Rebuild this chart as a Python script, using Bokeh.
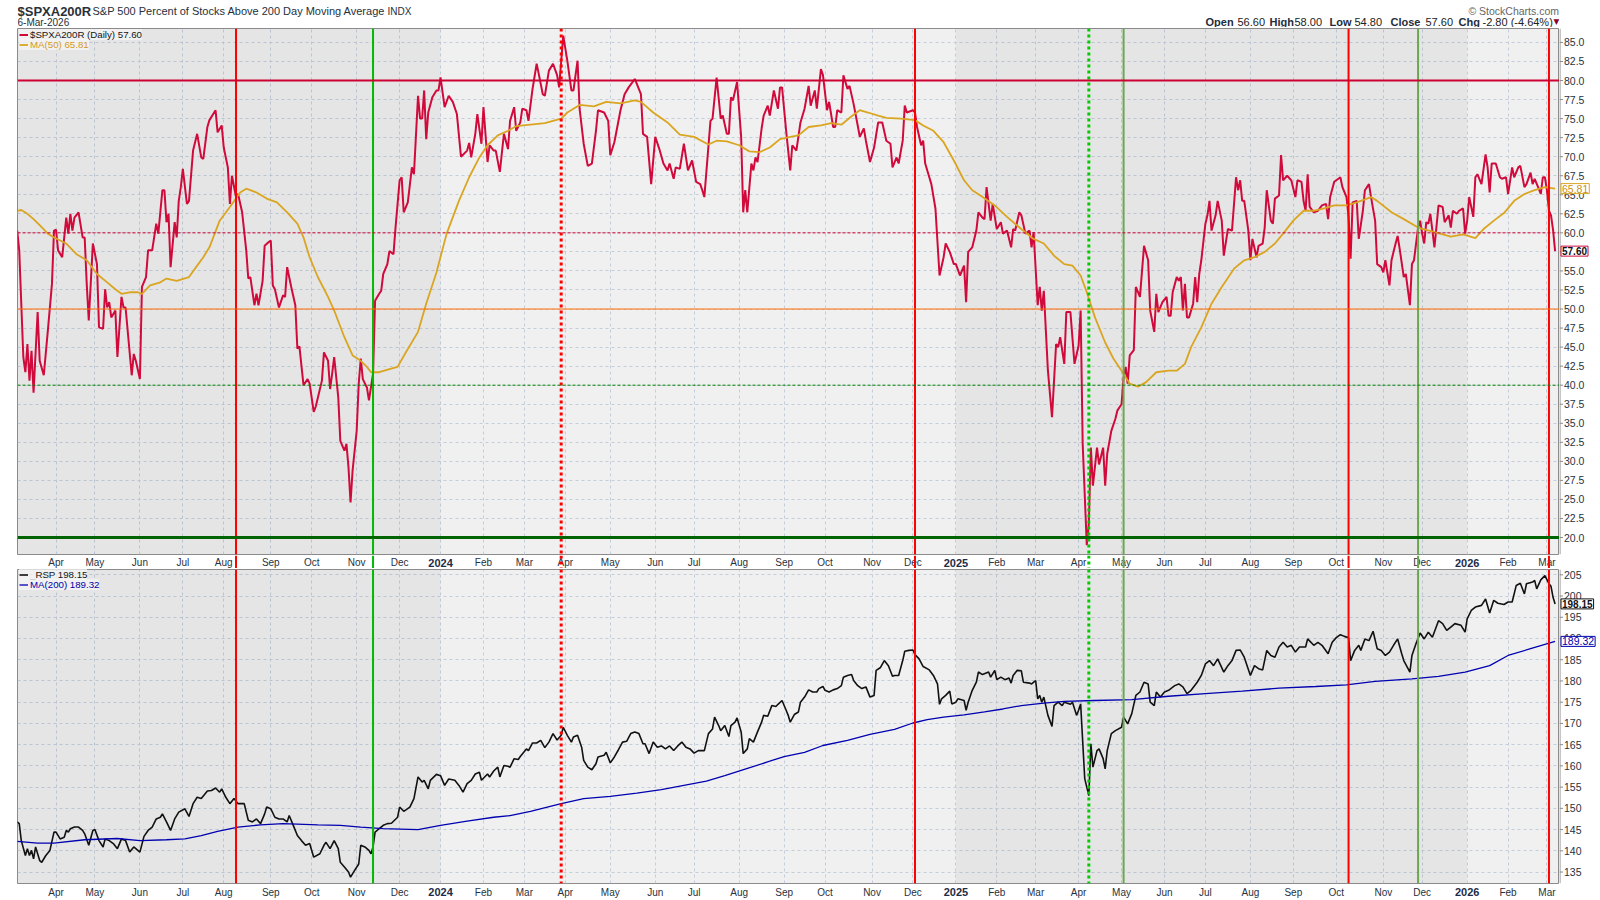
import numpy as np
from bokeh.plotting import figure
from bokeh.models import (Range1d, FixedTicker, Span, BoxAnnotation, Label, Legend,
                          LegendItem, Grid)
from bokeh.core.properties import value
from bokeh.layouts import column, row
from bokeh.embed import file_html
from bokeh.resources import INLINE

# ---------------- calendar ----------------
FIRST_SESSION = "2023-03-07"
NYSE_HOLIDAYS = ["2023-04-07", "2023-05-29", "2023-06-19", "2023-07-04", "2023-09-04",
                 "2023-11-23", "2023-12-25", "2024-01-01", "2024-01-15", "2024-02-19",
                 "2024-03-29", "2024-05-27", "2024-06-19", "2024-07-04", "2024-09-02",
                 "2024-11-28", "2024-12-25", "2025-01-01", "2025-01-09", "2025-01-20",
                 "2025-02-17", "2025-04-18", "2025-05-26", "2025-06-19", "2025-07-04",
                 "2025-09-01", "2025-11-27", "2025-12-25", "2026-01-01", "2026-01-19",
                 "2026-02-16"]
MONTH_STARTS = ["2023-04-01", "2023-05-01", "2023-06-01", "2023-07-01", "2023-08-01",
                "2023-09-01", "2023-10-01", "2023-11-01", "2023-12-01",
                "2024-01-01", "2024-02-01", "2024-03-01", "2024-04-01", "2024-05-01",
                "2024-06-01", "2024-07-01", "2024-08-01", "2024-09-01", "2024-10-01",
                "2024-11-01", "2024-12-01",
                "2025-01-01", "2025-02-01", "2025-03-01", "2025-04-01", "2025-05-01",
                "2025-06-01", "2025-07-01", "2025-08-01", "2025-09-01", "2025-10-01",
                "2025-11-01", "2025-12-01",
                "2026-01-01", "2026-02-01", "2026-03-01"]
MONTH_LABELS = ["Apr", "May", "Jun", "Jul", "Aug", "Sep", "Oct", "Nov", "Dec",
                "2024", "Feb", "Mar", "Apr", "May", "Jun", "Jul", "Aug", "Sep", "Oct", "Nov", "Dec",
                "2025", "Feb", "Mar", "Apr", "May", "Jun", "Jul", "Aug", "Sep", "Oct", "Nov", "Dec",
                "2026", "Feb", "Mar"]
YEAR_STARTS = ["2024-01-01", "2025-01-01", "2026-01-01"]

# ---------------- $SPXA200R (session index, value) ----------------
spx_sess = [
    0, 1, 3, 4, 5, 6, 7, 8, 10, 11,
    13, 15, 17, 18, 19, 20, 22, 24, 25, 26,
    27, 28, 30, 32, 33, 34, 35, 37, 39, 40,
    42, 43, 44, 45, 46, 48, 49, 51, 52, 53,
    56, 57, 58, 60, 61, 63, 64, 66, 68, 69,
    71, 72, 73, 74, 75, 77, 78, 79, 80, 81,
    83, 84, 86, 88, 90, 91, 93, 94, 97, 98,
    100, 101, 103, 104, 105, 107, 108, 110, 112, 113,
    114, 116, 117, 118, 120, 121, 123, 124, 125, 126,
    128, 130, 131, 132, 134, 136, 137, 138, 140, 142,
    143, 145, 146, 149, 150, 152, 153, 154, 155, 157,
    158, 160, 161, 162, 163, 164, 166, 167, 168, 169,
    171, 172, 174, 175, 177, 178, 179, 181,
    182, 184, 185, 187, 188, 189, 191, 193, 194, 196,
    197, 198, 199, 200, 201, 203, 205, 206, 207, 209,
    211, 213, 215, 217, 220, 221, 222, 224, 225, 227,
    228, 230, 231, 233, 234, 236, 238, 240, 241, 243,
    244, 246, 247, 249, 250, 252, 254, 255, 257, 258,
    260, 262, 264, 265, 267, 269, 271, 272, 274, 275,
    277, 279, 281, 283, 284, 287, 289, 290, 292, 295,
    297, 299, 302, 305, 306, 308, 310, 312, 314, 316,
    318, 319, 321, 322, 324, 326, 328, 330, 332, 334,
    335, 336, 339, 340, 342, 344, 345, 347, 348, 349,
    350, 352, 354, 355, 356, 357, 359, 360, 361, 362,
    364, 365, 367, 368, 370, 372,
    373, 374, 376, 378, 379, 381, 383, 385, 387, 388,
    390, 391, 393, 394, 396, 397, 399, 400, 401, 403,
    404, 406, 407, 409, 411, 412, 414, 415, 417, 419,
    421, 423, 425, 427, 428, 430, 431, 433, 434, 435,
    438, 439, 440, 442, 443, 444, 446, 447, 449, 451,
    453, 454, 456, 458, 459, 461, 463, 464, 465, 467,
    469, 470, 472, 473, 474, 476, 477, 479, 481, 482,
    484, 486, 487, 488, 490, 491, 493, 495, 496, 497,
    499, 500, 501, 502, 504, 506, 508, 509, 510, 512,
    513, 515, 517, 519, 520, 521, 523, 524, 525, 526,
    528, 529, 531, 532, 533, 535, 537, 538, 540, 541,
    542, 543, 544, 546, 547, 549, 551, 553, 554, 556,
    557, 558, 560, 562, 563,
    564, 565, 567, 568, 569, 570, 571, 572, 573, 575,
    576, 577, 578, 579, 581, 582, 583, 584, 586, 587,
    589, 590, 592, 594, 596, 597, 598, 599, 600, 602,
    603, 604, 606, 607, 609, 610, 611, 613, 614, 615,
    617, 618, 619, 621, 623, 625, 626, 628, 629, 630,
    631, 632, 634, 636, 638, 640, 641, 642, 644, 645,
    647, 648, 650, 651, 652, 653, 655, 656, 658, 659,
    661, 662, 664, 665, 667, 668, 669, 671, 672, 674,
    675, 676, 678, 679, 681, 682, 683, 685, 686, 687,
    688, 689, 690, 691, 693, 695, 697, 698, 700, 701,
    702, 704, 705, 707, 708, 709, 710, 712, 713, 714,
    716, 718, 719, 720, 721, 723, 725, 726, 728, 729,
    731, 732, 734, 735, 737, 738, 740, 741, 742, 744,
    745, 746, 747, 748, 749, 750, 751, 752]
spx_vals = [
    60.3, 57.7, 43.7, 41.7, 45.4, 40.6, 44.5, 39.0, 49.6, 43.2,
    41.3, 47.2, 53.3, 60.3, 60.4, 57.7, 56.8, 62.0, 59.9, 62.5,
    60.3, 62.0, 62.7, 59.4, 59.4, 53.3, 48.5, 58.6, 55.9, 47.6,
    47.4, 52.6, 50.2, 50.9, 48.9, 49.8, 43.7, 51.6, 50.2, 50.2,
    41.3, 44.1, 43.2, 40.8, 52.9, 54.2, 57.7, 57.7, 61.2, 59.9,
    65.6, 65.6, 61.4, 62.5, 55.5, 61.4, 59.4, 64.2, 66.0, 68.4,
    63.8, 64.2, 70.8, 73.0, 69.9, 69.7, 73.9, 74.8, 76.1, 73.2,
    74.1, 71.2, 68.6, 63.8, 67.5, 64.7, 65.1, 62.7, 57.7, 54.0,
    54.2, 50.5, 52.0, 50.5, 53.7, 58.3, 58.8, 59.0, 53.1, 52.6,
    50.2, 51.8, 51.6, 55.5, 52.9, 50.5, 44.8, 45.1, 40.0, 40.8,
    40.2, 36.5, 37.2, 40.6, 44.3, 43.2, 39.5, 41.5, 43.7, 38.4,
    32.7, 31.4, 32.3, 29.2, 24.6, 28.8, 34.0, 40.2, 43.5, 40.8,
    39.7, 38.0, 41.5, 51.1, 52.0, 52.4, 54.6, 55.9,
    57.6, 57.2, 60.7, 66.9, 67.3, 62.7, 64.0, 68.6, 67.7, 78.0,
    75.0, 75.0, 78.7, 72.3, 75.8, 77.8, 78.7, 78.7, 80.4, 76.5,
    78.0, 77.2, 75.6, 70.0, 70.8, 71.8, 69.9, 73.0, 75.6, 71.7,
    76.5, 69.3, 71.5, 70.8, 70.8, 68.0, 73.0, 71.0, 74.7, 76.5,
    73.4, 74.5, 76.3, 76.1, 74.7, 78.9, 82.2, 80.9, 78.2, 78.0,
    81.3, 82.2, 80.7, 79.1, 85.9, 82.6, 78.7, 78.7, 82.6, 76.3,
    71.7, 68.8, 69.1, 73.4, 76.1, 75.8, 74.7, 70.2, 71.9, 76.1,
    78.2, 79.1, 80.2, 78.2, 73.0, 72.6, 66.4, 72.6, 71.0, 69.1,
    68.2, 69.1, 67.1, 68.6, 68.4, 71.7, 68.2, 69.5, 66.7, 66.4,
    65.6, 64.7, 74.7, 75.0, 80.4, 75.0, 75.4, 73.0, 73.0, 77.8,
    77.4, 79.8, 72.6, 62.7, 65.6, 62.7, 69.1, 68.2, 69.9, 69.3,
    73.7, 75.4, 76.7, 75.4, 78.7, 76.3,
    79.1, 79.1, 73.4, 68.2, 71.5, 70.8, 74.5, 76.3, 79.3, 76.7,
    78.7, 76.3, 81.5, 80.7, 76.1, 77.2, 73.9, 73.9, 76.1, 75.8,
    80.7, 78.9, 79.3, 76.9, 74.1, 72.6, 73.7, 72.1, 69.3, 71.2,
    74.5, 74.5, 72.1, 71.7, 68.6, 69.9, 69.1, 72.1, 76.7, 75.8,
    76.1, 75.8, 73.9, 71.5, 72.1, 69.1, 67.3, 66.4, 63.2, 54.4,
    56.8, 58.6, 57.5, 55.9, 55.9, 54.4, 55.7, 50.9, 57.5, 58.1,
    60.3, 62.7, 62.0, 61.8, 66.0, 61.6, 63.8, 60.5, 61.4, 59.9,
    60.3, 58.1, 60.5, 60.3, 62.7, 62.3, 59.9, 60.3, 58.1, 60.1,
    50.5, 52.9, 49.8, 52.4, 41.9, 35.8, 45.4, 45.0, 46.3, 42.8,
    49.6, 49.6, 42.8, 45.2, 49.8, 32.3, 19.0, 21.8, 31.8, 26.8,
    31.8, 29.6, 31.8, 26.8, 31.0, 34.0, 35.6, 36.7, 37.5, 41.0,
    42.4, 40.2, 43.9, 44.6, 52.9, 51.6, 58.3, 56.4, 49.8, 47.0,
    52.0, 49.6, 50.9, 51.6, 49.1,
    49.1, 52.2, 54.2, 53.7, 54.2, 49.8, 53.3, 48.9, 48.9, 50.7,
    54.2, 50.9, 54.6, 56.4, 61.2, 62.3, 64.2, 60.3, 62.3, 64.2,
    61.6, 57.0, 60.5, 60.3, 67.3, 65.6, 66.9, 64.2, 64.2, 60.3,
    56.4, 59.2, 56.8, 58.3, 58.6, 60.7, 65.6, 61.6, 61.2, 64.5,
    64.9, 70.2, 66.9, 67.5, 66.9, 64.7, 66.9, 66.7, 64.2, 62.9,
    67.7, 63.4, 62.7, 62.9, 63.6, 63.8, 61.8, 64.7, 66.7, 66.9,
    67.3, 66.0, 64.7, 62.1, 56.6, 64.0, 64.2, 59.2, 62.9, 65.6,
    66.4, 64.7, 61.6, 55.9, 55.5, 54.8, 56.4, 53.1, 56.4, 58.6,
    59.6, 57.9, 54.2, 54.6, 50.5, 55.9, 56.4, 60.7, 61.6, 59.9,
    58.6, 61.4, 61.2, 62.5, 58.1, 63.6, 63.4, 61.4, 62.3, 60.7,
    62.9, 62.5, 62.9, 63.2, 59.9, 61.6, 64.7, 62.1, 67.3, 67.7,
    66.4, 70.3, 68.6, 65.3, 69.1, 69.1, 67.3, 67.1, 67.3, 65.1,
    68.6, 67.3, 68.6, 68.8, 66.0, 66.4, 67.9, 66.4, 67.1, 65.8,
    65.1, 67.3, 67.3, 65.6, 62.9, 62.3, 60.4, 57.6]

# ---------------- MA(50) of $SPXA200R ----------------
ma50_sess = [0, 2, 5, 8, 11, 15, 18, 21, 24, 29,
             34, 39, 44, 48, 51, 55, 59, 61, 65, 70,
             73, 78, 84, 88, 91, 94, 99, 104, 109, 112,
             117, 122, 127, 132, 137, 140, 143, 147, 152, 155,
             160, 164, 168, 171, 173, 177, 182, 186, 190, 196,
             200, 205, 210, 216, 221, 226, 230, 235, 240, 244,
             251, 258, 262, 266, 269, 275, 282, 288, 295, 302,
             305, 311, 318, 324, 331, 338, 342, 347, 353, 358,
             363, 368, 373, 378, 382, 387, 393, 398, 403, 408,
             412, 416, 421, 425, 432, 439, 443, 448, 453, 458,
             463, 467, 471, 478, 484, 491, 497, 502, 507, 512,
             516, 520, 523, 527, 532, 536, 541, 544, 548, 552,
             557, 563, 567, 571, 574, 579, 584, 589, 595, 600,
             605, 610, 615, 619, 624, 629, 634, 639, 644, 650,
             655, 662, 665, 672, 678, 685, 693, 701, 707, 713,
             717, 723, 727, 732, 737, 742, 747, 752]
ma50_vals = [62.9, 63.0, 62.5, 61.8, 61.0, 59.9, 59.4, 59.0, 58.6, 57.2,
             56.4, 54.6, 53.5, 52.6, 52.0, 52.2, 52.2, 52.0, 53.1, 53.5,
             54.0, 53.7, 54.2, 55.7, 56.8, 58.1, 61.6, 63.4, 65.3, 65.8,
             65.3, 64.5, 64.0, 62.7, 61.2, 59.4, 56.8, 54.2, 51.6, 49.8,
             46.3, 43.9, 43.2, 42.4, 41.7, 41.7, 42.1, 42.4, 44.3, 47.0,
             50.7, 54.8, 59.9, 64.2, 67.3, 69.9, 71.5, 72.8, 73.4, 74.0,
             74.2, 74.4, 74.7, 75.0, 75.8, 76.8, 76.6, 77.2, 77.0, 77.4,
             77.2, 75.8, 74.5, 72.9, 72.6, 71.6, 72.1, 72.0, 71.5, 70.7,
             70.6, 71.2, 72.3, 72.6, 72.8, 73.9, 74.1, 74.4, 74.2, 75.3,
             76.1, 75.8, 75.4, 75.1, 75.0, 74.8, 74.1, 73.4, 71.9, 69.5,
             66.9, 65.6, 64.9, 63.6, 62.1, 60.5, 59.2, 58.6, 57.0, 55.9,
             55.7, 54.4, 52.2, 48.9, 45.6, 43.5, 41.5, 40.2, 39.8, 40.4,
             41.7, 41.9, 41.9, 42.8, 45.0, 47.6, 50.7, 52.9, 55.3, 56.4,
             56.8, 57.5, 58.6, 59.9, 61.6, 62.9, 62.9, 63.2, 63.6, 63.6,
             64.0, 64.7, 64.2, 62.7, 61.8, 60.7, 60.1, 59.5, 59.8, 59.3,
             60.5, 61.8, 62.6, 64.2, 65.1, 65.6, 66.0, 65.81]

# ---------------- _RSP price ----------------
rsp_sess = [
    0, 1, 2, 4, 5, 6, 7, 8, 9, 11,
    12, 14, 16, 18, 19, 21, 23, 24, 25, 26,
    28, 30, 32, 33, 35, 37, 38, 40, 42, 43,
    45, 47, 49, 51, 53, 55, 57, 60, 62, 64,
    66, 68, 70, 71, 73, 75, 77, 79, 82, 84,
    86, 88, 90, 93, 95, 97, 99, 100, 102, 104,
    106, 108, 111, 113, 115, 117, 119, 121, 122, 124,
    126, 128, 130, 132, 133, 135, 137, 139, 141, 143,
    145, 148, 150, 151, 153, 155, 157, 158, 160, 162,
    163, 165, 167, 168, 170, 172, 173, 174, 175, 177,
    179, 181, 183, 186, 187, 189, 192, 194, 196, 198,
    199, 201, 202, 205, 207, 209, 211, 214, 216, 218,
    220, 222, 224, 226, 227, 230, 231, 233, 235, 236,
    238, 240,
    241, 243, 245, 246, 249, 250, 252, 254, 256, 258,
    260, 262, 264, 266, 267, 269, 271, 272, 274, 276,
    277, 279, 281, 283, 284, 287, 288, 290, 292, 294,
    296, 298, 300, 302, 304, 306, 307, 309, 311, 313,
    315, 317, 319, 321, 323, 325, 327, 329, 331, 333,
    336, 338, 340, 341, 343, 344, 346, 348, 349, 351,
    352, 354, 355, 357, 358, 360, 362, 364, 365, 367,
    369, 371, 372, 374, 376, 377, 378, 380, 382, 383,
    385, 387, 389, 391, 392, 394, 395, 397, 399, 401,
    403, 404, 406, 408, 409, 411, 413, 415, 417, 419,
    420, 422, 424, 426, 428, 429, 431, 433, 434, 436,
    438, 439, 441, 443, 446, 448, 450, 451, 452, 454,
    456, 457, 459, 460, 463, 464, 465, 467, 469, 470,
    472, 475, 476, 478, 479, 481, 483, 485, 486, 487,
    489,
    491, 492, 495, 496, 498, 499, 500, 501, 502, 504,
    506, 507, 509, 511, 512, 515, 516, 518, 519, 520,
    522, 524, 525, 526, 528, 529, 531, 532, 533, 535,
    537, 540, 541, 543, 545, 547, 549, 551, 553, 554,
    556, 557, 559, 561, 563, 566, 568, 570, 572, 574,
    577, 579, 581, 583, 585, 587, 590, 592, 594, 596,
    598, 600, 603, 605, 607, 609, 611, 613, 615, 617,
    619, 621, 623, 625, 627, 630, 631, 634, 636, 638,
    641, 643, 645, 647, 649, 651, 652, 654, 656, 657,
    659, 661, 663, 665, 667, 669, 671, 673, 675, 677,
    678, 681, 682, 684, 686, 688, 690, 692, 695, 697,
    699, 701, 703, 706, 708, 709, 711, 713, 716, 718,
    720, 722, 724, 727, 729, 731, 733, 735, 737, 738,
    741, 742, 743, 745, 747, 749, 750, 751, 752]
rsp_vals = [
    146.8, 146.4, 142.4, 138.9, 140.5, 138.9, 140.1, 138.1, 140.9, 137.7,
    137.3, 138.9, 140.1, 144.4, 144.4, 142.8, 143.2, 144.8, 144.4, 145.2,
    145.6, 145.6, 144.8, 144.0, 141.3, 144.8, 145.0, 142.4, 140.9, 142.8,
    142.4, 141.7, 140.5, 142.8, 142.4, 139.7, 140.9, 139.7, 143.4, 144.8,
    145.6, 147.5, 147.9, 148.7, 146.8, 144.8, 147.5, 149.1, 149.9, 148.1,
    151.1, 152.6, 152.3, 154.1, 154.2, 154.8, 153.8, 154.6, 152.6, 151.1,
    152.3, 151.1, 151.1, 147.2, 146.8, 147.5, 146.4, 148.7, 150.3, 149.9,
    147.9, 147.5, 147.5, 146.8, 148.3, 146.0, 143.6, 142.4, 141.3, 141.7,
    138.5, 139.3, 141.3, 142.0, 140.5, 142.4, 140.5, 137.3, 136.2, 135.0,
    133.8, 135.4, 136.9, 141.3, 140.9, 140.1, 139.3, 140.9, 144.4, 145.2,
    146.0, 146.4, 146.5, 147.9, 150.3, 149.3, 150.3, 152.3, 157.4, 156.2,
    156.6, 154.6, 156.6, 158.0, 157.7, 155.4, 156.9, 156.6, 155.4, 153.8,
    155.8, 156.6, 158.1, 158.5, 156.6, 158.1, 157.4, 158.8, 159.7, 157.4,
    160.1, 159.9,
    159.7, 161.7, 161.5, 162.2, 164.0, 163.6, 165.4, 165.4, 166.0, 164.3,
    165.6, 167.6, 166.1, 167.2, 169.1, 167.2, 165.6, 166.8, 167.2, 164.4,
    161.3, 159.7, 159.1, 160.5, 162.1, 162.5, 163.2, 160.7, 162.1, 163.8,
    165.6, 165.8, 167.6, 168.0, 167.6, 165.2, 165.2, 162.9, 165.6, 164.4,
    164.7, 164.0, 164.7, 163.6, 164.7, 165.6, 164.4, 164.0, 163.0, 163.6,
    163.6, 167.6, 168.7, 171.5, 169.5, 168.3, 169.5, 166.9, 169.5, 170.3,
    171.3, 168.0, 162.9, 164.0, 166.4, 165.6, 168.0, 170.3, 171.9, 171.7,
    174.2, 174.0, 174.5, 175.4, 173.1, 171.9, 170.3, 172.1, 172.7, 175.0,
    176.2, 177.9, 177.4, 177.4, 178.2, 178.7, 177.8, 177.4, 177.9, 178.2,
    178.9, 180.9, 181.3, 181.5, 180.1, 178.9, 178.2, 178.6, 176.2, 176.6,
    182.5, 183.1, 184.8, 183.6, 181.1, 181.3, 181.3, 184.8, 187.0, 187.2,
    187.3, 186.2, 185.2, 183.4, 182.6, 181.3, 179.3, 174.5, 175.8, 176.6,
    177.6, 174.6, 175.0, 175.8, 175.4, 173.1, 175.0, 177.8, 179.7, 182.1,
    181.5, 182.1, 180.9, 182.5, 180.3, 180.9, 180.3, 180.7, 179.5, 181.3,
    182.5,
    182.4, 179.7, 179.5, 179.3, 180.1, 175.8, 176.6, 175.0, 176.2, 171.9,
    169.3, 174.2, 175.0, 174.2, 175.0, 174.5, 175.0, 171.9, 173.1, 174.6,
    157.0, 153.0, 165.2, 159.7, 163.6, 164.0, 161.7, 159.3, 163.6, 167.6,
    168.3, 169.1, 171.5, 169.9, 172.3, 176.6, 177.4, 179.7, 179.3, 175.0,
    174.2, 177.4, 176.2, 177.4, 177.8, 178.9, 179.3, 178.6, 177.0, 177.8,
    179.7, 181.3, 184.0, 184.8, 183.6, 185.2, 182.1, 183.6, 184.8, 187.2,
    187.3, 185.6, 181.3, 183.6, 182.9, 182.6, 187.2, 186.0, 185.6, 188.0,
    189.1, 188.0, 188.4, 186.8, 188.0, 188.0, 189.9, 188.4, 189.1, 188.4,
    186.4, 189.1, 190.2, 190.9, 190.5, 190.2, 184.8, 187.2, 188.4, 187.2,
    189.9, 189.5, 191.7, 187.6, 187.2, 186.0, 186.8, 188.4, 189.9, 186.4,
    184.8, 182.1, 186.0, 188.8, 191.3, 189.9, 191.5, 190.3, 194.2, 193.5,
    191.9, 192.7, 193.5, 193.1, 191.5, 194.6, 196.6, 197.4, 197.8, 199.3,
    196.0, 199.0, 198.3, 198.0, 198.6, 198.6, 202.5, 203.0, 200.5, 202.9,
    203.3, 203.7, 201.7, 203.8, 204.8, 202.9, 202.3, 199.7, 198.15]

# ---------------- MA(200) of _RSP ----------------
ma200_sess = [0, 10, 18, 33, 49, 60, 73, 82, 90, 98,
              108, 119, 130, 147, 158, 168, 179, 196, 207, 220,
              233, 241, 251, 266, 277, 290, 303, 315, 326, 337,
              346, 359, 368, 375, 385, 394, 406, 417, 429, 438,
              445, 453, 463, 473, 482, 491, 502, 512, 527, 545,
              563, 581, 599, 617, 635, 650, 664, 682, 695, 708,
              720, 729, 740, 752]
ma200_vals = [142.2, 141.8, 141.8, 142.6, 142.9, 142.4, 142.6, 142.8, 143.6, 144.6,
              145.6, 146.1, 146.4, 146.1, 146.0, 145.6, 145.2, 145.0, 146.0, 147.0,
              147.9, 148.3, 149.3, 151.1, 152.3, 152.8, 153.6, 154.4, 155.4, 156.4,
              157.7, 159.7, 161.1, 162.2, 163.2, 164.8, 166.0, 167.4, 168.6, 170.1,
              170.9, 171.5, 172.0, 172.7, 173.4, 174.2, 174.8, 175.2, 175.4, 175.6,
              176.4, 177.0, 177.6, 178.3, 178.7, 179.1, 179.9, 180.5, 181.1, 182.1,
              183.6, 186.0, 187.6, 189.32]

# ---------------- marked sessions, levels, ticks ----------------
red_event_sess = [107, 439, 651, 749]
red_dotted_sess = [266]
green_event_sess = [174]
olive_event_sess = [541, 685]
green_dotted_sess = [524]
LEVEL_TOP, LEVEL_UPPER, LEVEL_MID, LEVEL_LOWER, LEVEL_BOTTOM = 80, 60, 50, 40, 20
spx_ticks = [20.0, 22.5, 25.0, 27.5, 30.0, 32.5, 35.0, 37.5, 40.0, 42.5, 45.0, 47.5,
             50.0, 52.5, 55.0, 57.5, 60.0, 62.5, 65.0, 67.5, 70.0, 72.5, 75.0, 77.5,
             80.0, 82.5, 85.0]
rsp_ticks = [135, 140, 145, 150, 155, 160, 165, 170, 175, 180, 185, 190, 195, 200, 205]
last_spx, last_ma50, last_rsp, last_ma200 = 57.60, 65.81, 198.15, 189.32
ohlc_names = ["Open", "High", "Low", "Close", "Chg"]
ohlc_values = ["56.60", "58.00", "54.80", "57.60", "-2.80 (-4.64%)"]

# ---------------- helpers ----------------
def to_sessions(dates):
    return [int(n) for n in np.busday_count(FIRST_SESSION, dates, holidays=NYSE_HOLIDAYS)]

month_sess = to_sessions(MONTH_STARTS)
year_sess = to_sessions(YEAR_STARTS)

FONT = "Liberation Sans"
TXT = "#28323e"
AXC = "#8c8c8c"
LEFT_B, SIDE_W, FULL_W = 17, 41, 1600
PANEL_W = FULL_W - SIDE_W
XR = Range1d(0.15, 754.15)
YR_TOP = Range1d(17.77, 86.83)
YR_BOT = Range1d(132.3, 206.25)


def bare(width, height, xr, yr, left=0, right=0, top=0, bottom=0):
    p = figure(width=width, height=height, x_range=xr, y_range=yr,
               x_axis_location=None, y_axis_location=None, output_backend="svg",
               toolbar_location=None, title=None, min_border_left=left,
               min_border_right=right, min_border_top=top, min_border_bottom=bottom)
    p.border_fill_color = "white"
    return p


def hide_grids(p):
    for g in p.center:
        if isinstance(g, Grid):
            g.visible = False


def grid_for(p, dim, ticks):
    gs = [g for g in p.center if isinstance(g, Grid) and g.dimension == dim]
    if gs:
        g = gs[0]
    else:
        g = Grid(dimension=dim)
        p.add_layout(g)
    g.ticker = FixedTicker(ticks=ticks)
    g.grid_line_color = "#c4cedb"
    g.grid_line_dash = "3 3"
    g.grid_line_width = 1
    g.visible = True


def add_events(p):
    for s in red_event_sess:
        p.add_layout(Span(location=s, dimension="height", line_color="#ff0000", line_width=2))
    for s in red_dotted_sess:
        p.add_layout(Span(location=s, dimension="height", line_color="#ff0000",
                          line_width=3, line_dash="3 3"))
    for s in green_event_sess:
        p.add_layout(Span(location=s, dimension="height", line_color="#00bb00", line_width=2))
    for s in olive_event_sess:
        p.add_layout(Span(location=s, dimension="height", line_color="#6aa84f", line_width=2))
    for s in green_dotted_sess:
        p.add_layout(Span(location=s, dimension="height", line_color="#00cc00",
                          line_width=3, line_dash="3 3"))


def panel(height, yr, yticks):
    p = bare(PANEL_W, height, XR, yr, left=LEFT_B, right=0, top=1, bottom=1)
    p.background_fill_color = "#f0f0f0"
    p.outline_line_color = AXC
    grid_for(p, 0, month_sess)
    grid_for(p, 1, yticks)
    for l, r in [(None, year_sess[0]), (year_sess[1], year_sess[2])]:
        p.add_layout(BoxAnnotation(left=l, right=r, fill_color="black", fill_alpha=0.045,
                                   line_color=None, level="underlay"))
    add_events(p)
    return p


def side(height, yr, ticks, fmt):
    s = bare(SIDE_W, height, Range1d(0, SIDE_W), yr, top=1, bottom=1)
    s.background_fill_color = "white"
    s.outline_line_color = None
    hide_grids(s)
    n = len(ticks)
    s.add_layout(Span(location=0.5, dimension="height", line_color=AXC, line_width=1))
    s.segment(x0=[0] * n, y0=ticks, x1=[3.5] * n, y1=ticks, line_color=AXC, line_width=1)
    s.text(x=[4.5] * n, y=ticks, text=[fmt % t for t in ticks], text_align="left",
           text_baseline="middle", text_font=value(FONT), text_font_size=value("10.5px"),
           text_color=TXT)
    return s


def strip(height, events):
    s = bare(FULL_W, height, XR, Range1d(height, 0), left=LEFT_B, right=SIDE_W)
    s.background_fill_color = "white"
    s.outline_line_color = None
    hide_grids(s)
    if events:
        add_events(s)
    mx = [x for x, lab in zip(month_sess, MONTH_LABELS) if not lab.isdigit()]
    ml = [lab for lab in MONTH_LABELS if not lab.isdigit()]
    yx = [x for x, lab in zip(month_sess, MONTH_LABELS) if lab.isdigit()]
    yl = [lab for lab in MONTH_LABELS if lab.isdigit()]
    mid = height / 2.0 + 0.5
    s.text(x=mx, y=[mid] * len(mx), text=ml, text_align="center", text_baseline="middle",
           text_font=value(FONT), text_font_size=value("10px"), text_color=TXT)
    s.text(x=yx, y=[mid] * len(yx), text=yl, text_align="center", text_baseline="middle",
           text_font=value(FONT), text_font_size=value("11px"), text_font_style="bold",
           text_color="#1e2c48")
    return s


def add_legend(p, renderer, text, color, vy):
    leg = Legend(items=[LegendItem(label=value(text), renderers=[renderer])],
                 location=(2, vy), orientation="vertical", padding=0, margin=0, spacing=0,
                 glyph_width=9, glyph_height=9, label_height=9, label_standoff=2,
                 label_text_font=FONT, label_text_font_size="9.7px", label_text_color=color,
                 border_line_color=None, background_fill_color="#f4f4f4",
                 background_fill_alpha=0.75)
    p.add_layout(leg)


def add_tag(s, y, text, color, border, bold=False):
    s.add_layout(Label(x=1.5, y=y, text=text, text_align="left", text_baseline="middle",
                       text_font=FONT, text_font_size="10.5px" if not bold else "10px",
                       text_font_style="bold" if bold else "normal", text_color=color,
                       background_fill_color="white", border_line_color=border,
                       border_line_width=1, padding=1))


# ---------------- header (its frame is aligned with the panels: page x 17..1559) ----------------
HDR_H = 27
hdr = bare(FULL_W, HDR_H, Range1d(LEFT_B, PANEL_W), Range1d(HDR_H, 0),
           left=LEFT_B, right=SIDE_W)
hdr.background_fill_color = "white"
hdr.outline_line_color = None
hide_grids(hdr)


def htext(text, x, y, size, bold=False, color="#26303c", align="left", font=FONT):
    hdr.add_layout(Label(x=x, y=y, text=text, text_align=align, text_baseline="middle",
                         text_font=font, text_font_size=size,
                         text_font_style="bold" if bold else "normal", text_color=color))


htext("$SPXA200R", 17, 10.5, "13px", bold=True, color="#2a3038")
htext("S&P 500 Percent of Stocks Above 200 Day Moving Average", 92, 10.5, "11px")
htext("INDX", 387, 10.5, "10px")
htext("6-Mar-2026", 17, 21.6, "10px")
htext("\u00a9 StockCharts.com", 1558.5, 10, "10.5px", color="#666666", align="right")
name_x = [1205, 1269, 1329, 1390, 1458]
value_x = [1237, 1294, 1354, 1425, 1482]
for nm, nx, vl, vx in zip(ohlc_names, name_x, ohlc_values, value_x):
    htext(nm, nx, 21.4, "11px", bold=True, color="#1f2d3d")
    htext(vl, vx, 21.4, "11px", color="#222222")
htext("\u25bc", 1553, 21.4, "7.5px", color="#8b0030", font="DejaVu Sans")

# ---------------- top panel ----------------
TOP_H = 528
p1 = panel(TOP_H, YR_TOP, spx_ticks)
p1.add_layout(Span(location=LEVEL_TOP, dimension="width", line_color="#cc0033", line_width=2))
p1.add_layout(Span(location=LEVEL_UPPER, dimension="width", line_color="#cc0033",
                   line_width=1, line_dash="3 2"))
p1.add_layout(Span(location=LEVEL_MID, dimension="width", line_color="#ff6a00", line_width=1))
p1.add_layout(Span(location=LEVEL_LOWER, dimension="width", line_color="#008000",
                   line_width=1, line_dash="3 2"))
p1.add_layout(Span(location=LEVEL_BOTTOM, dimension="width", line_color="#006400", line_width=3))
r_spx = p1.line(spx_sess, spx_vals, line_color="#d10a3c", line_width=2)
r_ma50 = p1.line(ma50_sess, ma50_vals, line_color="#daa520", line_width=1.8)
f1 = TOP_H - 2
add_legend(p1, r_spx, "$SPXA200R (Daily) %.2f" % last_spx, "#151515", f1 - 12)
add_legend(p1, r_ma50, "MA(50) %.2f" % last_ma50, "#d49a1c", f1 - 21.5)
s1 = side(TOP_H, YR_TOP, spx_ticks, "%.1f")
add_tag(s1, last_ma50, "%.2f" % last_ma50, "#c8901a", "#daa520")
add_tag(s1, last_spx, "%.2f" % last_spx, "#111111", "#d10a3c", bold=True)

# ---------------- bottom panel ----------------
BOT_H = 316
p2 = panel(BOT_H, YR_BOT, rsp_ticks)
r_rsp = p2.line(rsp_sess, rsp_vals, line_color="#111111", line_width=1.6)
r_ma200 = p2.line(ma200_sess, ma200_vals, line_color="#0000b0", line_width=1.3)
f2 = BOT_H - 2
add_legend(p2, r_rsp, "_RSP %.2f" % last_rsp, "#151515", f2 - 11)
add_legend(p2, r_ma200, "MA(200) %.2f" % last_ma200, "#0000aa", f2 - 20.5)
s2 = side(BOT_H, YR_BOT, rsp_ticks, "%d")
add_tag(s2, last_ma200, "%.2f" % last_ma200, "#0000aa", "#0000b0")
add_tag(s2, last_rsp, "%.2f" % last_rsp, "#111111", "#111111", bold=True)

mid_strip = strip(13, True)
bot_strip = strip(14, False)

layout = column(hdr, row(p1, s1, spacing=0), mid_strip, row(p2, s2, spacing=0), bot_strip,
                spacing=0)
open("out.html", "w").write(file_html(layout, INLINE))
